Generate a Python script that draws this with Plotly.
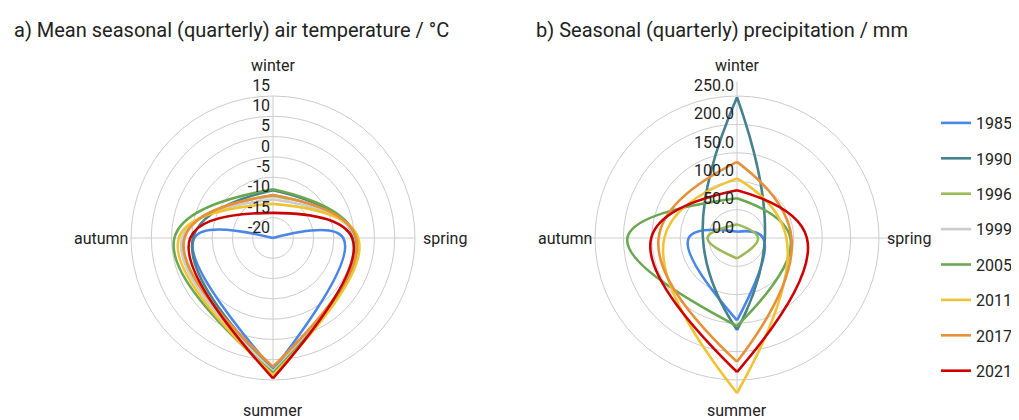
import math
import plotly.graph_objects as go

seasons = ["winter", "spring", "summer", "autumn"]
years = ["1985", "1990", "1996", "1999", "2005", "2011", "2017", "2021"]
colors = ["#4a86e8", "#45818e", "#9bbb59", "#cccccc", "#6aa84f", "#f1c232", "#e69138", "#cc0000"]

# Mean seasonal air temperature / °C  (winter, spring, summer, autumn)
temp_1985 = [-21.3, -2.7, 12.5, -0.6]
temp_1990 = [-8.2, 0.0, 12.8, -0.3]
temp_1996 = [-9.5, 0.2, 12.9, 2.0]
temp_1999 = [-10.5, 0.3, 12.9, 2.4]
temp_2005 = [-8.0, 0.4, 13.3, 4.3]
temp_2011 = [-11.6, 1.0, 13.8, 3.2]
temp_2017 = [-9.4, 0.5, 11.7, 1.8]
temp_2021 = [-13.8, -0.5, 14.6, 0.4]

# Seasonal precipitation / mm  (winter, spring, summer, autumn)
prec_1985 = [11, 46, 145, 85]
prec_1990 = [248, 49, 162, 60]
prec_1996 = [24, 37, 36, 52]
prec_2005 = [70, 94, 155, 193]
prec_2011 = [105, 87, 273, 128]
prec_2017 = [134, 96, 218, 138]
prec_2021 = [84, 123, 236, 151]

temp = {"1985": temp_1985, "1990": temp_1990, "1996": temp_1996, "1999": temp_1999,
        "2005": temp_2005, "2011": temp_2011, "2017": temp_2017, "2021": temp_2021}
prec = {"1985": prec_1985, "1990": prec_1990, "1996": prec_1996,
        "2005": prec_2005, "2011": prec_2011, "2017": prec_2017, "2021": prec_2021}

temp_ticks = [-20, -15, -10, -5, 0, 5, 10, 15]
temp_ticktext = ["-20", "-15", "-10", "-5", "0", "5", "10", "15"]
prec_ticks = [0, 50, 100, 150, 200, 250]
prec_ticktext = ["0.0", "50.0", "100.0", "150.0", "200.0", "250.0"]

titles = ["a) Mean seasonal (quarterly) air temperature / °C",
          "b) Seasonal (quarterly) precipitation / mm"]

FONT = "Roboto"
TXT = "#222222"
GRID = "#cccccc"

# the page body adds an 8px margin: work in window pixels and subtract it
OFF = 8
W, H = 1019 - OFF, 420 - OFF

def fx(px):
    return (px - OFF) / W

def fy(py):
    return 1 - (py - OFF) / H

fig = go.Figure()

LINE = dict(width=2.6, shape="spline", smoothing=1.3)
# each loop is drawn as two curved halves: winter→spring→summer and summer→autumn→winter
HALVES = [[0, 1, 2], [2, 3, 0]]

def add_series(vals, name, color, subplot, show):
    for k, idx in enumerate(HALVES):
        fig.add_trace(go.Scatterpolar(
            r=[vals[i] for i in idx], theta=[seasons[i] for i in idx], mode="lines",
            line=dict(color=color, **LINE), name=name, legendgroup=name,
            showlegend=(show and k == 0), subplot=subplot, cliponaxis=False,
            hovertemplate="%{theta}: %{r}<extra>" + name + "</extra>",
        ))

for y, c in zip(years, colors):
    add_series(temp[y], y, c, "polar", True)
for y, c in zip(years, colors):
    if y in prec:
        add_series(prec[y], y, c, "polar2", False)

CENTERS = [(273, 238), (737, 238)]
RING_R = 142          # pixel radius of the outermost labelled ring
LABEL_R = 172
TEMP_RANGE = [-20, 15]
PREC_RANGE = [0, 275]  # headroom beyond the 250 ring for the 2011 summer value

def dom(cx, cy, r):
    return dict(x=[fx(cx - r), fx(cx + r)], y=[fy(cy + r), fy(cy - r)])

def angular(showline):
    return dict(type="category", categoryarray=seasons, direction="clockwise", rotation=90,
                gridcolor=GRID, linecolor=GRID, showline=showline, ticks="", showticklabels=False)

def radial(rng, tv, tt):
    return dict(range=rng, tickvals=tv, ticktext=[t + "<br> " for t in tt], angle=90, tickangle=90,
                side="counterclockwise", showline=False, gridcolor=GRID, ticks="",
                tickfont=dict(family=FONT, size=16, color=TXT))

prec_R = RING_R * (PREC_RANGE[1] - PREC_RANGE[0]) / (prec_ticks[-1] - PREC_RANGE[0])

annotations = [
    dict(text=titles[0], x=fx(12), y=fy(30), xref="paper", yref="paper",
         xanchor="left", yanchor="middle", showarrow=False,
         font=dict(family=FONT, size=20, color=TXT)),
    dict(text=titles[1], x=fx(534), y=fy(30), xref="paper", yref="paper",
         xanchor="left", yanchor="middle", showarrow=False,
         font=dict(family=FONT, size=20, color=TXT)),
]
# season labels around each polar chart
for cx, cy in CENTERS:
    for i, s in enumerate(seasons):
        a = math.radians(90 * i)
        px = cx + LABEL_R * math.sin(a)
        py = cy - LABEL_R * math.cos(a)
        annotations.append(dict(text=s, x=fx(px), y=fy(py), xref="paper", yref="paper",
                                xanchor="center", yanchor="middle", showarrow=False,
                                font=dict(family=FONT, size=16, color=TXT)))

fig.update_layout(
    width=W, height=H, autosize=False,
    margin=dict(l=0, r=0, t=0, b=0, autoexpand=False),
    paper_bgcolor="white",
    font=dict(family=FONT, color=TXT),
    polar=dict(domain=dom(*CENTERS[0], RING_R), bgcolor="white",
               angularaxis=angular(True), radialaxis=radial(TEMP_RANGE, temp_ticks, temp_ticktext)),
    polar2=dict(domain=dom(*CENTERS[1], prec_R), bgcolor="white",
                angularaxis=angular(False), radialaxis=radial(PREC_RANGE, prec_ticks, prec_ticktext)),
    legend=dict(x=fx(936), y=fy(106), xanchor="left", yanchor="top",
                font=dict(family=FONT, size=16, color=TXT), tracegroupgap=11.6,
                bgcolor="rgba(0,0,0,0)"),
    annotations=annotations,
)

fig.write_html("out.html")
